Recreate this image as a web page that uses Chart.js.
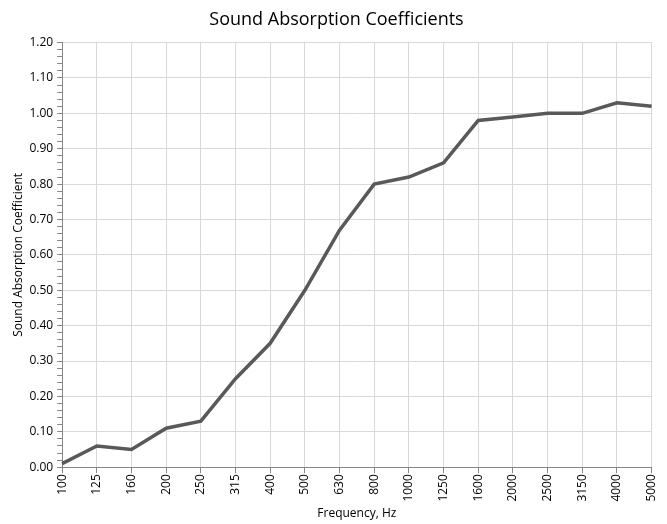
<!DOCTYPE html>
<html>
<head>
<meta charset="utf-8">
<script src="https://cdn.jsdelivr.net/npm/chart.js@4"></script>
<style>
  html, body { margin: 0; padding: 0; background: #fff; }
  #wrap { width: 667px; height: 524px; }
</style>
</head>
<body>
<div id="wrap"><canvas id="absChart"></canvas></div>
<script>
// frequencias (Hz) e coeficientes
const frequencies = ['100', '125', '160', '200', '250', '315', '400', '500', '630', '800', '1000', '1250', '1600', '2000', '2500', '3150', '4000', '5000'];
const coefficients = [0.01, 0.06, 0.05, 0.11, 0.13, 0.25, 0.35, 0.50, 0.67, 0.80, 0.82, 0.86, 0.98, 0.99, 1.00, 1.00, 1.03, 1.02];
const yMin = 0;
const yMax = 1.2;

const fontFamily = '"Open Sans", "Liberation Sans", sans-serif';

function isMajor(v) {
  return Math.abs(v * 10 - Math.round(v * 10)) < 1e-6;
}

const ctx = document.getElementById('absChart').getContext('2d');
const absChart = new Chart(ctx, {
  type: 'line',
  data: {
    labels: frequencies,
    datasets: [{
      label: 'Sound Absorption Coefficient',
      data: coefficients,
      borderColor: '#595959',
      borderWidth: 3.5,
      pointRadius: 0,
      tension: 0,
      fill: false
    }]
  },
  options: {
    responsive: true,
    maintainAspectRatio: false,
    animation: false,
    layout: {
      padding: { top: 7, right: 1, left: 7, bottom: 3 }
    },
    plugins: {
      legend: { display: false },
      tooltip: { enabled: false },
      title: {
        display: true,
        text: 'Sound Absorption Coefficients',
        color: '#000',
        font: { family: fontFamily, size: 18, weight: 'normal' },
        padding: { top: 2, bottom: 12 }
      }
    },
    scales: {
      x: {
        offset: false,
        grid: {
          color: '#d9d9d9',
          lineWidth: 1,
          tickLength: 6,
          tickColor: '#868686'
        },
        border: { color: '#868686', width: 1 },
        ticks: {
          color: '#000',
          font: { family: fontFamily, size: 12 },
          minRotation: 90,
          maxRotation: 90,
          autoSkip: false,
          padding: 1
        },
        title: {
          display: true,
          text: 'Frequency, Hz',
          color: '#000',
          font: { family: fontFamily, size: 12 },
          padding: { top: 4, bottom: 0 }
        }
      },
      y: {
        min: yMin,
        max: yMax,
        grid: {
          color: (c) => isMajor(c.tick.value) ? '#d9d9d9' : 'rgba(0,0,0,0)',
          tickColor: '#868686',
          tickLength: 5
        },
        border: { color: '#868686', width: 1 },
        ticks: {
          stepSize: 0.02,
          autoSkip: false,
          color: '#000',
          font: { family: fontFamily, size: 12 },
          padding: 4,
          callback: function(value) {
            return isMajor(value) ? value.toFixed(2) : '';
          }
        },
        title: {
          display: true,
          text: 'Sound Absorption Coefficient',
          color: '#000',
          font: { family: fontFamily, size: 12 },
          padding: { bottom: 0 }
        }
      }
    }
  }
});
</script>
</body>
</html>
